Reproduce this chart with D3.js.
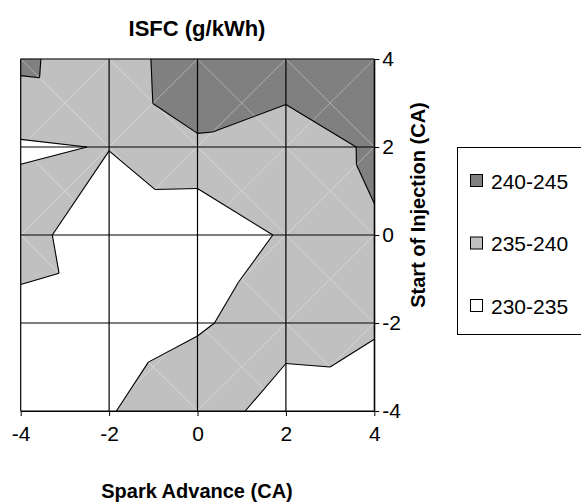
<!DOCTYPE html>
<html>
<head>
<meta charset="utf-8">
<script src="https://cdn.jsdelivr.net/npm/d3@7"></script>
<style>
  html, body { margin: 0; padding: 0; background: #fff; }
  svg { display: block; font-family: "Liberation Sans", Arial, sans-serif; }
</style>
</head>
<body>
<svg id="chart" width="581" height="504"></svg>
<script>
// ---- data ----
const sparkAdvance = [-4, -2, 0, 2, 4];          // x categories
const injectionStart = [-4, -2, 0, 2, 4];        // y series
// ISFC values, one array per start-of-injection row, ordered by spark advance
const isfcSoiM4 = [232.0, 234.64, 239.0, 231.6, 232.1];
const isfcSoiM2 = [233.1, 231.8, 234.31, 237.9, 235.66];
const isfcSoi0  = [237.45, 230.6, 230.4, 235.8, 239.41];
const isfcSoi2  = [234.4, 235.2, 239.1, 235.9, 241.06];
const isfcSoi4  = [241.3, 235.6, 244.9, 244.4, 243.5];
const bandLevels = [230, 235, 240, 245];
const bandLabels = ["230-235", "235-240", "240-245"];
const bandColors = ["#FFFFFF", "#C0C0C0", "#808080"];
const xTickLabels = ["-4", "-2", "0", "2", "4"];
const yTickLabels = ["-4", "-2", "0", "2", "4"];

const grid = [isfcSoiM4, isfcSoiM2, isfcSoi0, isfcSoi2, isfcSoi4];

const svg = d3.select("#chart");
const x = d3.scaleLinear().domain([-4, 4]).range([20.7, 374.3]);
const y = d3.scaleLinear().domain([-4, 4]).range([411, 59]);

// ---- triangulation (split along diagonal with higher mean) ----
const triangles = [];
for (let j = 0; j < injectionStart.length - 1; j++) {
  for (let i = 0; i < sparkAdvance.length - 1; i++) {
    const A = {x: sparkAdvance[i],     y: injectionStart[j + 1], z: grid[j + 1][i]};
    const B = {x: sparkAdvance[i + 1], y: injectionStart[j + 1], z: grid[j + 1][i + 1]};
    const C = {x: sparkAdvance[i],     y: injectionStart[j],     z: grid[j][i]};
    const D = {x: sparkAdvance[i + 1], y: injectionStart[j],     z: grid[j][i + 1]};
    if ((A.z + D.z) >= (B.z + C.z)) {
      triangles.push([A, B, D], [A, D, C]);
    } else {
      triangles.push([A, B, C], [B, D, C]);
    }
  }
}

function lerp(p, q, level) {
  const t = (level - p.z) / (q.z - p.z);
  return {x: p.x + t * (q.x - p.x), y: p.y + t * (q.y - p.y), z: level};
}
function clip(poly, level, keepAbove) {
  const out = [];
  const inside = p => keepAbove ? p.z >= level : p.z <= level;
  for (let k = 0; k < poly.length; k++) {
    const cur = poly[k], nxt = poly[(k + 1) % poly.length];
    const ci = inside(cur), ni = inside(nxt);
    if (ci) out.push(cur);
    if (ci !== ni) out.push(lerp(cur, nxt, level));
  }
  return out;
}

const line = d3.line().x(d => x(d.x)).y(d => y(d.y));

// ---- band fills ----
const fillG = svg.append("g");
bandColors.forEach((col, b) => {
  triangles.forEach(tri => {
    let poly = clip(tri, bandLevels[b], true);
    if (poly.length) poly = clip(poly, bandLevels[b + 1], false);
    if (poly.length >= 3) {
      fillG.append("path")
        .attr("d", line(poly) + "Z")
        .attr("fill", col)
        .attr("stroke", col)
        .attr("stroke-width", 0.6);
    }
  });
});

// ---- faint triangulation seams ----
const seamG = svg.append("g");
for (let j = 0; j < injectionStart.length - 1; j++) {
  for (let i = 0; i < sparkAdvance.length - 1; i++) {
    const x0 = sparkAdvance[i], x1 = sparkAdvance[i + 1];
    const y0 = injectionStart[j], y1 = injectionStart[j + 1];
    [[[x0, y1], [x1, y0]], [[x1, y1], [x0, y0]]].forEach(seg => {
      seamG.append("line")
        .attr("x1", x(seg[0][0])).attr("y1", y(seg[0][1]))
        .attr("x2", x(seg[1][0])).attr("y2", y(seg[1][1]))
        .attr("stroke", "#ffffff").attr("stroke-opacity", 0.4)
        .attr("stroke-width", 0.8);
    });
  }
}

// ---- contour lines ----
const contourG = svg.append("g");
bandLevels.slice(1, -1).forEach(level => {
  triangles.forEach(tri => {
    const pts = [];
    for (let k = 0; k < 3; k++) {
      const p = tri[k], q = tri[(k + 1) % 3];
      if ((p.z - level) * (q.z - level) < 0) pts.push(lerp(p, q, level));
    }
    if (pts.length === 2) {
      contourG.append("path").attr("d", line(pts))
        .attr("fill", "none").attr("stroke", "#000").attr("stroke-width", 1.1);
    }
  });
});

// ---- gridlines ----
const gridG = svg.append("g");
sparkAdvance.forEach(v => {
  gridG.append("line").attr("x1", x(v)).attr("x2", x(v)).attr("y1", y(-4)).attr("y2", y(4))
    .attr("stroke", "#000").attr("stroke-width", 1.2);
});
injectionStart.forEach(v => {
  gridG.append("line").attr("x1", x(-4)).attr("x2", x(4)).attr("y1", y(v)).attr("y2", y(v))
    .attr("stroke", "#000").attr("stroke-width", 1.2);
});

// ---- axes ----
const xAxis = d3.axisBottom(x).tickValues(sparkAdvance).tickSize(5).tickSizeOuter(0)
  .tickFormat((d, i) => xTickLabels[i]).tickPadding(10);
const xg = svg.append("g").attr("transform", `translate(0,${y(-4)})`).call(xAxis);
xg.select(".domain").attr("stroke", "#000");
xg.selectAll("text").attr("font-size", 21).attr("fill", "#000")
  .attr("font-family", "Liberation Sans, Arial, sans-serif");

const yAxis = d3.axisRight(y).tickValues(injectionStart).tickSize(5).tickSizeOuter(0)
  .tickFormat((d, i) => yTickLabels[i]).tickPadding(3);
const yg = svg.append("g").attr("transform", `translate(${x(4)},0)`).call(yAxis);
yg.select(".domain").attr("stroke", "#000");
yg.selectAll("text").attr("font-size", 21).attr("fill", "#000")
  .attr("font-family", "Liberation Sans, Arial, sans-serif");

// ---- titles ----
svg.append("text").attr("x", 197).attr("y", 36).attr("text-anchor", "middle")
  .attr("font-size", 22).attr("font-weight", "bold").text("ISFC (g/kWh)");
svg.append("text").attr("x", 197).attr("y", 498).attr("text-anchor", "middle")
  .attr("font-size", 20).attr("font-weight", "bold").text("Spark Advance (CA)");
svg.append("text").attr("transform", `translate(425,205) rotate(-90)`)
  .attr("text-anchor", "middle")
  .attr("font-size", 20).attr("font-weight", "bold").text("Start of Injection (CA)");

// ---- legend ----
const lg = svg.append("g");
lg.append("rect").attr("x", 457.5).attr("y", 147.5).attr("width", 140).attr("height", 187)
  .attr("fill", "#fff").attr("stroke", "#000").attr("stroke-width", 1);
const legendOrder = [2, 1, 0];
legendOrder.forEach((b, k) => {
  const cy = 181 + k * 62.5;
  lg.append("rect").attr("x", 470.5).attr("y", cy - 6.5).attr("width", 12).attr("height", 12)
    .attr("fill", bandColors[b]).attr("stroke", "#000").attr("stroke-width", 1);
  lg.append("text").attr("x", 491).attr("y", cy + 7.5).attr("font-size", 21)
    .text(bandLabels[b]);
});
</script>
</body>
</html>
